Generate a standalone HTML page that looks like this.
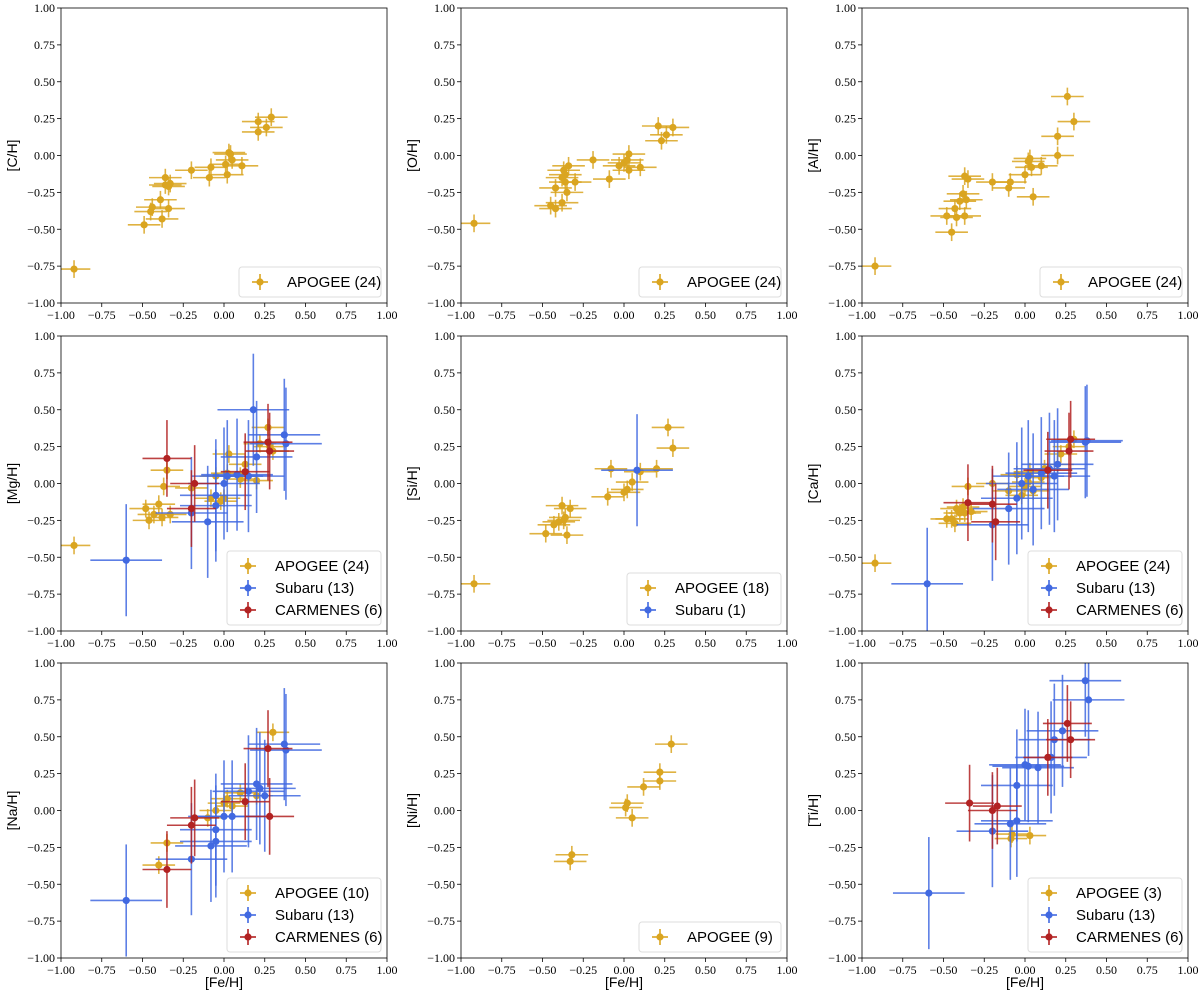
<!DOCTYPE html>
<html><head><meta charset="utf-8"><style>
body{margin:0;background:#fff;}
svg{display:block;font-family:"Liberation Serif",serif;}
</style></head><body>
<svg id="fig" width="1200" height="997" viewBox="0 0 1200 997" xmlns="http://www.w3.org/2000/svg"></svg>
<script>
// ---- data (x = [Fe/H], y = [X/H]) ----
const cH_apogee_x=[-0.92,-0.49,-0.45,-0.44,-0.39,-0.38,-0.34,-0.36,-0.36,-0.34,-0.33,-0.20,-0.09,-0.08,0.01,0.02,0.03,0.04,0.05,0.11,0.21,0.21,0.26,0.29];
const cH_apogee_y=[-0.77,-0.47,-0.38,-0.35,-0.30,-0.43,-0.36,-0.15,-0.20,-0.21,-0.19,-0.10,-0.15,-0.08,-0.06,-0.13,0.02,0.01,-0.03,-0.07,0.23,0.16,0.19,0.26];
const oH_apogee_x=[-0.92,-0.45,-0.42,-0.42,-0.38,-0.37,-0.36,-0.36,-0.35,-0.34,-0.19,-0.09,-0.03,0.00,0.02,0.03,0.03,0.10,0.21,0.23,0.26,0.30,-0.38,-0.30];
const oH_apogee_y=[-0.46,-0.34,-0.36,-0.22,-0.32,-0.10,-0.13,-0.18,-0.25,-0.07,-0.03,-0.16,-0.07,-0.05,-0.03,0.01,-0.10,-0.08,0.20,0.10,0.14,0.19,-0.15,-0.18];
const alH_apogee_x=[-0.92,-0.48,-0.45,-0.43,-0.42,-0.40,-0.38,-0.37,-0.37,-0.36,-0.35,-0.20,-0.10,-0.09,0.00,0.02,0.03,0.04,0.05,0.10,0.20,0.20,0.26,0.30];
const alH_apogee_y=[-0.75,-0.41,-0.52,-0.36,-0.42,-0.31,-0.26,-0.41,-0.14,-0.30,-0.16,-0.18,-0.22,-0.18,-0.13,-0.04,-0.02,-0.08,-0.28,-0.07,0.13,0.00,0.40,0.23];
const mgH_apogee_x=[-0.92,-0.48,-0.46,-0.43,-0.40,-0.38,-0.37,-0.35,-0.33,-0.20,-0.08,-0.05,-0.02,0.00,0.02,0.03,0.10,0.10,0.13,0.20,0.22,0.27,0.28,0.30];
const mgH_apogee_y=[-0.42,-0.17,-0.25,-0.21,-0.14,-0.23,-0.02,0.09,-0.21,-0.03,-0.10,0.05,-0.12,-0.10,0.07,0.20,0.05,0.03,0.13,0.02,0.27,0.38,0.25,0.22];
const mgH_subaru_x=[-0.60,-0.20,-0.10,-0.05,-0.05,0.00,0.02,0.08,0.15,0.18,0.20,0.37,0.38];
const mgH_subaru_y=[-0.52,-0.20,-0.26,-0.08,-0.15,0.00,0.05,0.06,0.05,0.50,0.18,0.33,0.27];
const mgH_carm_x=[-0.35,-0.20,-0.18,0.13,0.27,0.28];
const mgH_carm_y=[0.17,-0.17,0.00,0.08,0.28,0.22];
const siH_apogee_x=[-0.92,-0.48,-0.43,-0.40,-0.38,-0.37,-0.36,-0.35,-0.33,-0.10,-0.08,0.00,0.02,0.05,0.10,0.20,0.27,0.30];
const siH_apogee_y=[-0.68,-0.34,-0.28,-0.26,-0.15,-0.25,-0.23,-0.35,-0.17,-0.09,0.10,-0.06,-0.04,0.01,0.08,0.10,0.38,0.24];
const siH_subaru_x=[0.08];
const siH_subaru_y=[0.09];
const caH_apogee_x=[-0.92,-0.48,-0.45,-0.43,-0.42,-0.40,-0.38,-0.37,-0.35,-0.33,-0.20,-0.10,-0.05,-0.02,0.00,0.02,0.03,0.05,0.10,0.12,0.20,0.22,0.27,0.30];
const caH_apogee_y=[-0.54,-0.24,-0.24,-0.27,-0.17,-0.20,-0.16,-0.20,-0.02,-0.19,0.00,-0.05,0.06,-0.08,-0.02,0.01,0.08,-0.05,0.04,0.10,0.13,0.20,0.25,0.30];
const caH_subaru_x=[-0.60,-0.20,-0.10,-0.05,-0.02,0.02,0.05,0.10,0.15,0.18,0.20,0.37,0.38];
const caH_subaru_y=[-0.68,-0.28,-0.17,-0.10,0.00,0.05,-0.04,0.07,0.10,0.05,0.13,0.28,0.29];
const caH_carm_x=[-0.35,-0.20,-0.18,0.14,0.27,0.28];
const caH_carm_y=[-0.13,-0.14,-0.26,0.09,0.22,0.30];
const naH_apogee_x=[-0.40,-0.35,-0.10,-0.05,0.00,0.02,0.05,0.10,0.20,0.30];
const naH_apogee_y=[-0.37,-0.22,-0.05,0.00,0.05,0.08,0.03,0.12,0.10,0.53];
const naH_subaru_x=[-0.60,-0.20,-0.08,-0.05,-0.05,0.00,0.05,0.15,0.20,0.22,0.25,0.37,0.38];
const naH_subaru_y=[-0.61,-0.33,-0.24,-0.21,-0.13,-0.04,-0.04,0.13,0.18,0.15,0.10,0.45,0.41];
const naH_carm_x=[-0.35,-0.20,-0.18,0.13,0.27,0.28];
const naH_carm_y=[-0.40,-0.10,-0.05,0.06,0.42,-0.04];
const niH_apogee_x=[-0.33,-0.32,0.01,0.02,0.05,0.12,0.22,0.22,0.29];
const niH_apogee_y=[-0.345,-0.30,0.02,0.05,-0.05,0.16,0.20,0.26,0.45];
const tiH_apogee_x=[-0.086,-0.08,0.03];
const tiH_apogee_y=[-0.19,-0.16,-0.17];
const tiH_subaru_x=[-0.59,-0.20,-0.09,-0.05,-0.05,0.00,0.08,0.16,0.18,0.23,0.37,0.39,0.02];
const tiH_subaru_y=[-0.56,-0.14,-0.09,-0.07,0.17,0.31,0.29,0.36,0.48,0.54,0.88,0.75,0.30];
const tiH_carm_x=[-0.34,-0.20,-0.17,0.14,0.26,0.28];
const tiH_carm_y=[0.05,0.00,0.03,0.36,0.59,0.48];
const tickVals=[-1.00,-0.75,-0.50,-0.25,0.00,0.25,0.50,0.75,1.00];
const tickLabels=["\u22121.00","\u22120.75","\u22120.50","\u22120.25","0.00","0.25","0.50","0.75","1.00"];

const COL={APOGEE:"#DAA520",Subaru:"#4169E1",CARMENES:"#B22222"};
const ERR={APOGEE:[0.10,0.06],Subaru:[0.22,0.38],CARMENES:[0.15,0.26]};
const colsX=[61,461,862], rowsY=[8,336,663], W=326, H=295;
const panels=[
 {lab:"[C/H]",r:0,c:0,s:[["APOGEE",24,cH_apogee_x,cH_apogee_y]]},
 {lab:"[O/H]",r:0,c:1,s:[["APOGEE",24,oH_apogee_x,oH_apogee_y]]},
 {lab:"[Al/H]",r:0,c:2,s:[["APOGEE",24,alH_apogee_x,alH_apogee_y]]},
 {lab:"[Mg/H]",r:1,c:0,s:[["APOGEE",24,mgH_apogee_x,mgH_apogee_y],["Subaru",13,mgH_subaru_x,mgH_subaru_y],["CARMENES",6,mgH_carm_x,mgH_carm_y]]},
 {lab:"[Si/H]",r:1,c:1,s:[["APOGEE",18,siH_apogee_x,siH_apogee_y],["Subaru",1,siH_subaru_x,siH_subaru_y]]},
 {lab:"[Ca/H]",r:1,c:2,s:[["APOGEE",24,caH_apogee_x,caH_apogee_y],["Subaru",13,caH_subaru_x,caH_subaru_y],["CARMENES",6,caH_carm_x,caH_carm_y]]},
 {lab:"[Na/H]",r:2,c:0,s:[["APOGEE",10,naH_apogee_x,naH_apogee_y],["Subaru",13,naH_subaru_x,naH_subaru_y],["CARMENES",6,naH_carm_x,naH_carm_y]]},
 {lab:"[Ni/H]",r:2,c:1,s:[["APOGEE",9,niH_apogee_x,niH_apogee_y]]},
 {lab:"[Ti/H]",r:2,c:2,s:[["APOGEE",3,tiH_apogee_x,tiH_apogee_y],["Subaru",13,tiH_subaru_x,tiH_subaru_y],["CARMENES",6,tiH_carm_x,tiH_carm_y]]}
];
const NS="http://www.w3.org/2000/svg";
const svg=document.getElementById('fig');
function mk(tag,attrs,parent){const e=document.createElementNS(NS,tag);for(const k in attrs)e.setAttribute(k,attrs[k]);(parent||svg).appendChild(e);return e;}
panels.forEach(p=>{
  const x0=colsX[p.c], y0=rowsY[p.r];
  const sx=v=>x0+(v+1)/2*W, sy=v=>y0+(1-v)/2*H;
  const g=mk('g',{});
  
  
  const clip='clip'+p.r+p.c;
  const cp=mk('clipPath',{id:clip},g); mk('rect',{x:x0,y:y0,width:W,height:H},cp);
  tickVals.forEach((v,i)=>{
    mk('line',{x1:sx(v),x2:sx(v),y1:y0+H,y2:y0+H+4,stroke:'#000','stroke-width':0.8},g);
    const tx=mk('text',{x:sx(v),y:y0+H+16,'font-size':12,'text-anchor':'middle'},g);tx.textContent=tickLabels[i];
    
    
    mk('line',{x1:x0-4,x2:x0,y1:sy(v),y2:sy(v),stroke:'#000','stroke-width':0.8},g);
    const ty=mk('text',{x:x0-6,y:sy(v)+4,'font-size':12,'text-anchor':'end'},g);ty.textContent=tickLabels[i];
    
    
  });
  const yl=mk('text',{x:0,y:0,'font-size':14,'text-anchor':'middle','font-family':'Liberation Sans, sans-serif',transform:`translate(${x0-44},${y0+H/2}) rotate(-90)`},g);
  yl.textContent=p.lab;
  
  
  if(p.r===2){const xl=mk('text',{x:x0+W/2,y:987,'font-size':14,'text-anchor':'middle','font-family':'Liberation Sans, sans-serif'},g);xl.textContent='[Fe/H]';
    
    }
  const data=mk('g',{'clip-path':`url(#${clip})`},g);
  p.s.forEach(s=>{
    const [name,n,xs,ys]=s, col=COL[name], [ex,ey]=ERR[name];
    const sg=mk('g',{},data);
    
    
    xs.forEach((xv,i)=>{
      const yv=ys[i];
      mk('line',{x1:sx(xv-ex),x2:sx(xv+ex),y1:sy(yv),y2:sy(yv),stroke:col,'stroke-width':1.6,opacity:0.85},sg);
      mk('line',{x1:sx(xv),x2:sx(xv),y1:sy(yv-ey),y2:sy(yv+ey),stroke:col,'stroke-width':1.6,opacity:0.85},sg);
      const c=mk('circle',{cx:sx(xv),cy:sy(yv),r:3.6,fill:col},sg);
      
      
    });
  });
  mk('rect',{x:x0,y:y0,width:W,height:H,fill:'none',stroke:'#000','stroke-width':0.8},g);
  // legend
  const n=p.s.length, lw=(n===1?142:154), lh=8+n*22;
  const lx=x0+W-lw-6, ly=y0+H-lh-6;
  const lg=mk('g',{},g);
  
  
  mk('rect',{x:lx,y:ly,width:lw,height:lh,rx:3,fill:'#fff',stroke:'#ddd','stroke-width':1},lg);
  p.s.forEach((s,i)=>{
    const cy=ly+15+i*22, col=COL[s[0]];
    const e=mk('g',{},lg);
    
    
    mk('line',{x1:lx+13,x2:lx+29,y1:cy,y2:cy,stroke:col,'stroke-width':1.6},e);
    mk('line',{x1:lx+21,x2:lx+21,y1:cy-8,y2:cy+8,stroke:col,'stroke-width':1.6},e);
    mk('circle',{cx:lx+21,cy:cy,r:3.6,fill:col},e);
    const t=mk('text',{x:lx+48,y:cy+5,'font-size':15,'font-family':'Liberation Sans, sans-serif'},e);
    t.textContent=s[0]+' ('+s[1]+')';
  });
});
</script>
</body></html>
